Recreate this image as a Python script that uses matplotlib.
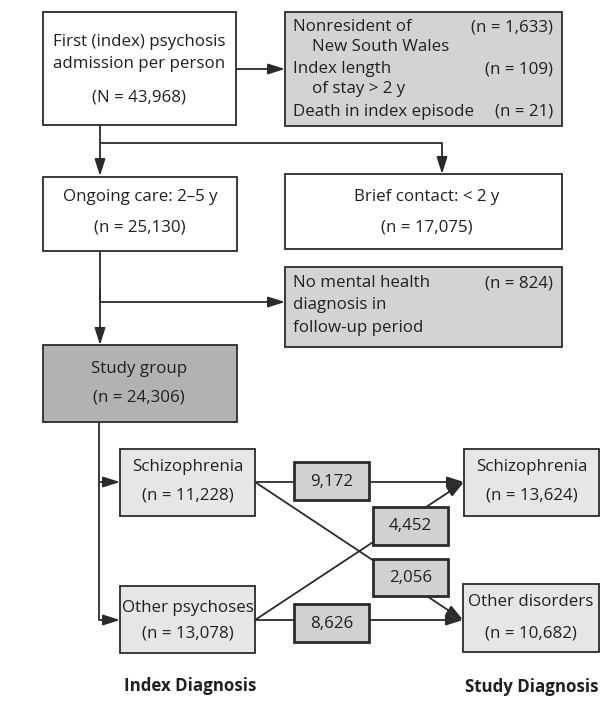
import matplotlib
matplotlib.use("Agg")
import matplotlib.pyplot as plt
from matplotlib.patches import Rectangle

# ---- data ----
total_n = 43968
excluded_labels = [["Nonresident of", "New South Wales"],
                   ["Index length", "of stay > 2 y"],
                   ["Death in index episode"]]
excluded_n = [1633, 109, 21]
ongoing_n = 25130
brief_n = 17075
no_dx_n = 824
study_group_n = 24306
index_labels = ["Schizophrenia", "Other psychoses"]
index_n = [11228, 13078]
study_labels = ["Schizophrenia", "Other disorders"]
study_n = [13624, 10682]
# flows[i][j]: index diagnosis i -> study diagnosis j
flows = [[9172, 2056],
         [4452, 8626]]

FONT = ["Open Sans", "DejaVu Sans"]
FS = 12.2
LINE = "#2b2b2b"
TXT = "#231f20"

fig = plt.figure(figsize=(6.06, 7.13), dpi=100)
ax = fig.add_axes([0, 0, 1, 1])
ax.set_xlim(0, 606)
ax.set_ylim(713, 0)
ax.axis("off")


def box(x0, y0, x1, y1, fc="white", lw=1.3, z=2):
    ax.add_patch(Rectangle((x0, y0), x1 - x0, y1 - y0, facecolor=fc,
                           edgecolor=LINE, linewidth=lw, zorder=z))


def txt(x, y, s, ha="center", fs=FS, weight="normal", z=5):
    ax.text(x, y, s, ha=ha, va="center", fontsize=fs, family=FONT,
            color=TXT, fontweight=weight, zorder=z)


def line(xs, ys, z=1):
    ax.plot(xs, ys, color=LINE, lw=1.3, zorder=z, solid_capstyle="butt")


def arrow(x0, y0, x1, y1, z=1):
    ax.annotate("", xy=(x1, y1), xytext=(x0, y0),
                arrowprops=dict(arrowstyle="-|>,head_length=0.85,head_width=0.27",
                                color=LINE, lw=1.3, shrinkA=0, shrinkB=0,
                                mutation_scale=12),
                zorder=z)


fmt = lambda n: f"{n:,}"

# top box
box(43, 12, 236, 125)
txt(139, 42, "First (index) psychosis")
txt(139, 64, "admission per person")
txt(139, 97, f"(N = {fmt(total_n)})")
arrow(236, 69, 285, 69)

# exclusions box
box(285, 12, 562, 126, fc="#d3d3d5")
ys_ex = [[27, 47], [69, 89], [112]]
for lab, n, ys in zip(excluded_labels, excluded_n, ys_ex):
    for k, (s, yy) in enumerate(zip(lab, ys)):
        txt(293 if k == 0 else 312, yy, s, ha="left")
    txt(553, ys[0], f"(n = {fmt(n)})", ha="right")

# split
line([100, 100], [125, 143])
line([100, 442], [143, 143])
arrow(100, 143, 100, 176)
arrow(442, 143, 442, 174)

box(43, 177, 237, 251)
txt(140, 197, "Ongoing care: 2\u20135 y")
txt(140, 227, f"(n = {fmt(ongoing_n)})")

box(285, 174, 562, 249)
txt(427, 197, "Brief contact: < 2 y")
txt(427, 227, f"(n = {fmt(brief_n)})")

# no diagnosis
line([100, 100], [251, 302])
arrow(100, 302, 285, 302)
arrow(100, 290, 100, 345)
box(285, 267, 562, 347, fc="#d3d3d5")
txt(293, 283, "No mental health", ha="left")
txt(293, 305, "diagnosis in", ha="left")
txt(293, 328, "follow-up period", ha="left")
txt(553, 283, f"(n = {fmt(no_dx_n)})", ha="right")

# study group
box(43, 345, 237, 422, fc="#b2b2b4")
txt(139, 369, "Study group")
txt(139, 397, f"(n = {fmt(study_group_n)})")

# index diagnoses
line([99, 99], [422, 620])
idx_y = [482, 620]
idx_boxes = [(120, 449, 255, 516), (120, 586, 255, 653)]
idx_text_y = [(467, 495), (608, 634)]
for lab, n, yy, b, ty in zip(index_labels, index_n, idx_y, idx_boxes, idx_text_y):
    arrow(99, yy, 120, yy)
    box(*b, fc="#e6e6e7")
    cx = (b[0] + b[2]) / 2
    txt(cx, ty[0], lab)
    txt(cx, ty[1], f"(n = {fmt(n)})")

# study diagnoses
st_y = [482, 620]
st_boxes = [(464, 449, 599, 516), (463, 584, 599, 652)]
st_text_y = [(467, 495), (602, 633)]
for lab, n, b, ty in zip(study_labels, study_n, st_boxes, st_text_y):
    box(*b, fc="#e6e6e7")
    cx = (b[0] + b[2]) / 2
    txt(cx, ty[0], lab)
    txt(cx, ty[1], f"(n = {fmt(n)})")

# flows
flow_boxes = {(0, 0): (294, 462, 369, 500), (0, 1): (373, 559, 448, 596),
              (1, 0): (373, 507, 448, 545), (1, 1): (294, 604, 369, 642)}
for i in range(2):
    for j in range(2):
        arrow(255, idx_y[i], 464 if j == 0 else 463, st_y[j])
        b = flow_boxes[(i, j)]
        box(*b, fc="#d1d1d3", lw=2.0, z=3)
        txt((b[0] + b[2]) / 2, (b[1] + b[3]) / 2 + 0.5, fmt(flows[i][j]))

txt(190, 686, "Index Diagnosis", weight="bold", fs=12.2)
txt(532, 687, "Study Diagnosis", weight="bold", fs=12.2)

fig.savefig("out.png", dpi=100)
